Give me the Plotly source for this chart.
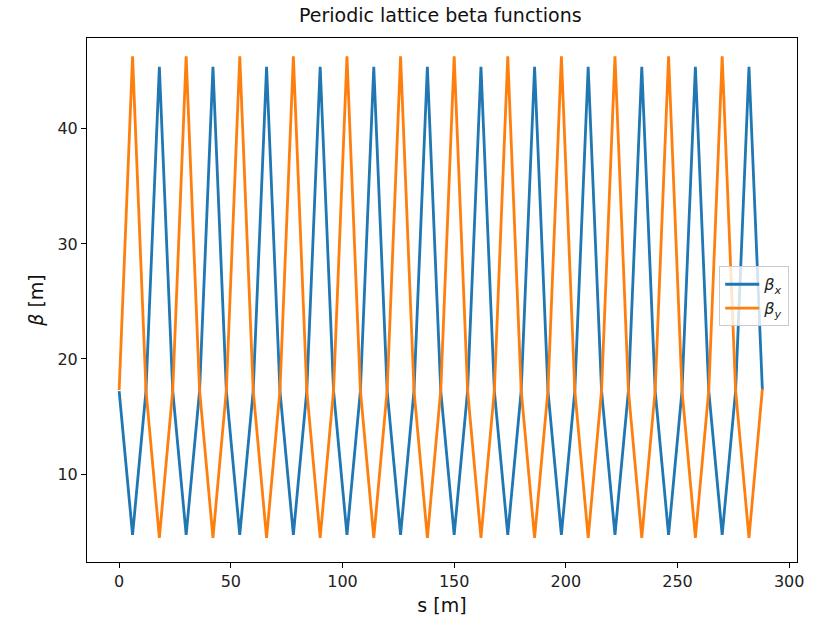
import plotly.graph_objects as go

# longitudinal position [m]
s = [0, 6, 12, 18, 24, 30, 36, 42, 48, 54, 60, 66, 72, 78, 84, 90, 96, 102, 108,
     114, 120, 126, 132, 138, 144, 150, 156, 162, 168, 174, 180, 186, 192, 198,
     204, 210, 216, 222, 228, 234, 240, 246, 252, 258, 264, 270, 276, 282, 288]

beta_x = [17.2, 4.7, 17.2, 45.4, 17.2, 4.7, 17.2, 45.4, 17.2, 4.7, 17.2, 45.4,
          17.2, 4.7, 17.2, 45.4, 17.2, 4.7, 17.2, 45.4, 17.2, 4.7, 17.2, 45.4,
          17.2, 4.7, 17.2, 45.4, 17.2, 4.7, 17.2, 45.4, 17.2, 4.7, 17.2, 45.4,
          17.2, 4.7, 17.2, 45.4, 17.2, 4.7, 17.2, 45.4, 17.2, 4.7, 17.2, 45.4,
          17.3]

beta_y = [17.3, 46.3, 17.3, 4.45, 17.3, 46.3, 17.3, 4.45, 17.3, 46.3, 17.3, 4.45,
          17.3, 46.3, 17.3, 4.45, 17.3, 46.3, 17.3, 4.45, 17.3, 46.3, 17.3, 4.45,
          17.3, 46.3, 17.3, 4.45, 17.3, 46.3, 17.3, 4.45, 17.3, 46.3, 17.3, 4.45,
          17.3, 46.3, 17.3, 4.45, 17.3, 46.3, 17.3, 4.45, 17.3, 46.3, 17.3, 4.45,
          17.4]

x_ticks = [0, 50, 100, 150, 200, 250, 300]
y_ticks = [10, 20, 30, 40]

FONT = "DejaVu Sans"

fig = go.Figure()
fig.add_trace(go.Scatter(x=s, y=beta_x, mode="lines", name="<i>β<sub>x</sub></i>",
                         line=dict(color="#1f77b4", width=2.8)))
fig.add_trace(go.Scatter(x=s, y=beta_y, mode="lines", name="<i>β<sub>y</sub></i>",
                         line=dict(color="#ff7f0e", width=2.8)))

axis_common = dict(showgrid=False, zeroline=False, showline=True, linecolor="black",
                   linewidth=1, mirror=True, ticks="outside", ticklen=5, tickwidth=1,
                   tickcolor="black", automargin=False,
                   tickfont=dict(family=FONT, size=16, color="#222"))

fig.update_layout(
    width=823, height=620,
    margin=dict(l=87, r=26, t=38, b=58),
    paper_bgcolor="white", plot_bgcolor="white",
    title=dict(text="Periodic lattice beta functions", x=0.535, xanchor="center",
               y=0.975, yanchor="middle",
               font=dict(family=FONT, size=19, color="#111")),
    xaxis=dict(range=[-14.4, 303.5], tickvals=x_ticks,
               title=dict(text="s [m]", font=dict(family=FONT, size=19, color="#111"),
                          standoff=8),
               **axis_common),
    yaxis=dict(range=[2.35, 47.9], tickvals=y_ticks,
               title=dict(text="<i>β</i> [m]", font=dict(family=FONT, size=19, color="#111"),
                          standoff=8),
               **axis_common),
    legend=dict(x=0.989, xanchor="right", y=0.507, yanchor="middle",
                bgcolor="rgba(255,255,255,0.8)", bordercolor="#cccccc", borderwidth=1,
                font=dict(family=FONT, size=16, color="#222"),
                itemwidth=34, tracegroupgap=4),
    showlegend=True,
)

fig.write_html("out.html")
